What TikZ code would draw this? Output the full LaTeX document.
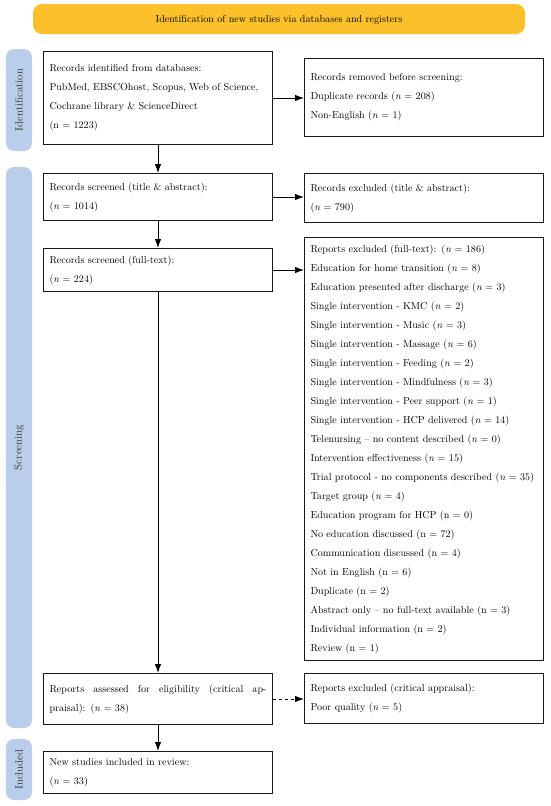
\documentclass[tikz,border=0pt]{standalone}
\usetikzlibrary{arrows.meta,calc}
\definecolor{bannerorange}{RGB}{251,192,42}
\definecolor{sideblue}{RGB}{186,206,236}
\tikzset{
  txt/.style={font=\fontsize{10.1}{19}\selectfont},
  box/.style={draw=black!90, line width=1pt, fill=white, txt, align=left, inner xsep=6pt, inner ysep=0pt, anchor=north west},
  side/.style={fill=sideblue, rounded corners=8pt, draw=none},
  sidetext/.style={font=\fontsize{10.8}{12}\selectfont, text=black!80, rotate=90},
  conn/.style={line width=0.9pt, -{Latex[length=9pt,width=6.5pt]}},
}
\newcommand{\nn}{\textit{n}}
\newcommand{\mkbox}[6]{% name, x1, y1, x2, y2, text
  \node[box, minimum width={#4pt-#2pt}, minimum height={#5pt-#3pt}, text width={#4pt-#2pt-12pt}] (#1) at (#2pt,-#3pt) {#6};}
\begin{document}
\begin{tikzpicture}[x=1pt,y=1pt]
\useasboundingbox (0,0) rectangle (550,-806);
% banner
\fill[bannerorange, rounded corners=9pt] (33,-4) rectangle (525,-34);
\node[txt] (banner) at (279,-19.5) {Identification of new studies via databases and registers};
% side labels
\fill[side] (6,-49) rectangle (32,-151);
\node[sidetext] (sid) at (19,-100) {Identification};
\fill[side] (6,-167) rectangle (32,-728);
\node[sidetext] (sscr) at (19,-447.5) {Screening};
\fill[side] (6,-739) rectangle (32,-800);
\node[sidetext] (sinc) at (19,-769.5) {Included};
% boxes
\mkbox{b1}{43}{51}{272}{144}{Records identified from databases:\\PubMed, EBSCOhost, Scopus, Web of Science,\\Cochrane library \& ScienceDirect\\(n = 1223)}
\mkbox{b2}{304}{58}{543}{136}{Records removed before screening:\\Duplicate records (\nn{} = 208)\\Non-English (\nn{} = 1)}
\mkbox{b3}{43}{173}{272}{220}{Records screened (title \& abstract):\\(\nn{} = 1014)}
\mkbox{b4}{304}{173}{543}{222}{Records excluded (title \& abstract):\\(\nn{} = 790)}
\mkbox{b5}{43}{248}{272}{291}{Records screened (full-text):\\(\nn{} = 224)}
\mkbox{b6}{304}{237}{543}{660}{Reports excluded (full-text): (\nn{} = 186)\\
Education for home transition (\nn{} = 8)\\
Education presented after discharge (\nn{} = 3)\\
Single intervention - KMC (\nn{} = 2)\\
Single intervention - Music (\nn{} = 3)\\
Single intervention - Massage (\nn{} = 6)\\
Single intervention - Feeding (\nn{} = 2)\\
Single intervention - Mindfulness (\nn{} = 3)\\
Single intervention - Peer support (\nn{} = 1)\\
Single intervention - HCP delivered (\nn{} = 14)\\
Telenursing -- no content described (\nn{} = 0)\\
Intervention effectiveness (\nn{} = 15)\\
Trial protocol - no components described (\nn{}~=~35)\\
Target group (\nn{} = 4)\\
Education program for HCP (n = 0)\\
No education discussed (n = 72)\\
Communication discussed (n = 4)\\
Not in English (n = 6)\\
Duplicate (n = 2)\\
Abstract only -- no full-text available (n = 3)\\
Individual information (n = 2)\\
Review (n = 1)}
\mkbox{b7}{43}{673}{272}{724}{Reports\hfill assessed\hfill for\hfill eligibility\hfill (critical\hfill ap-\\praisal): (\nn{} = 38)}
\mkbox{b8}{304}{673}{543}{723}{Reports excluded (critical appraisal):\\Poor quality (\nn{} = 5)}
\mkbox{b9}{43}{751}{272}{793}{New studies included in review:\\(\nn{} = 33)}
% connectors
\draw[conn] (b1.south) -- (b3.north);
\draw[conn] (b3.south) -- (b5.north);
\draw[conn] (b5.south) -- (b7.north);
\draw[conn] (b7.south) -- (b9.north);
\draw[conn] (b1.east) -- (b1.east -| b2.west);
\draw[conn] (b3.east) -- (b3.east -| b4.west);
\draw[conn] (b5.east) -- (b5.east -| b6.west);
\draw[conn, dashed] (b7.east) -- (b7.east -| b8.west);
\end{tikzpicture}
\end{document}
